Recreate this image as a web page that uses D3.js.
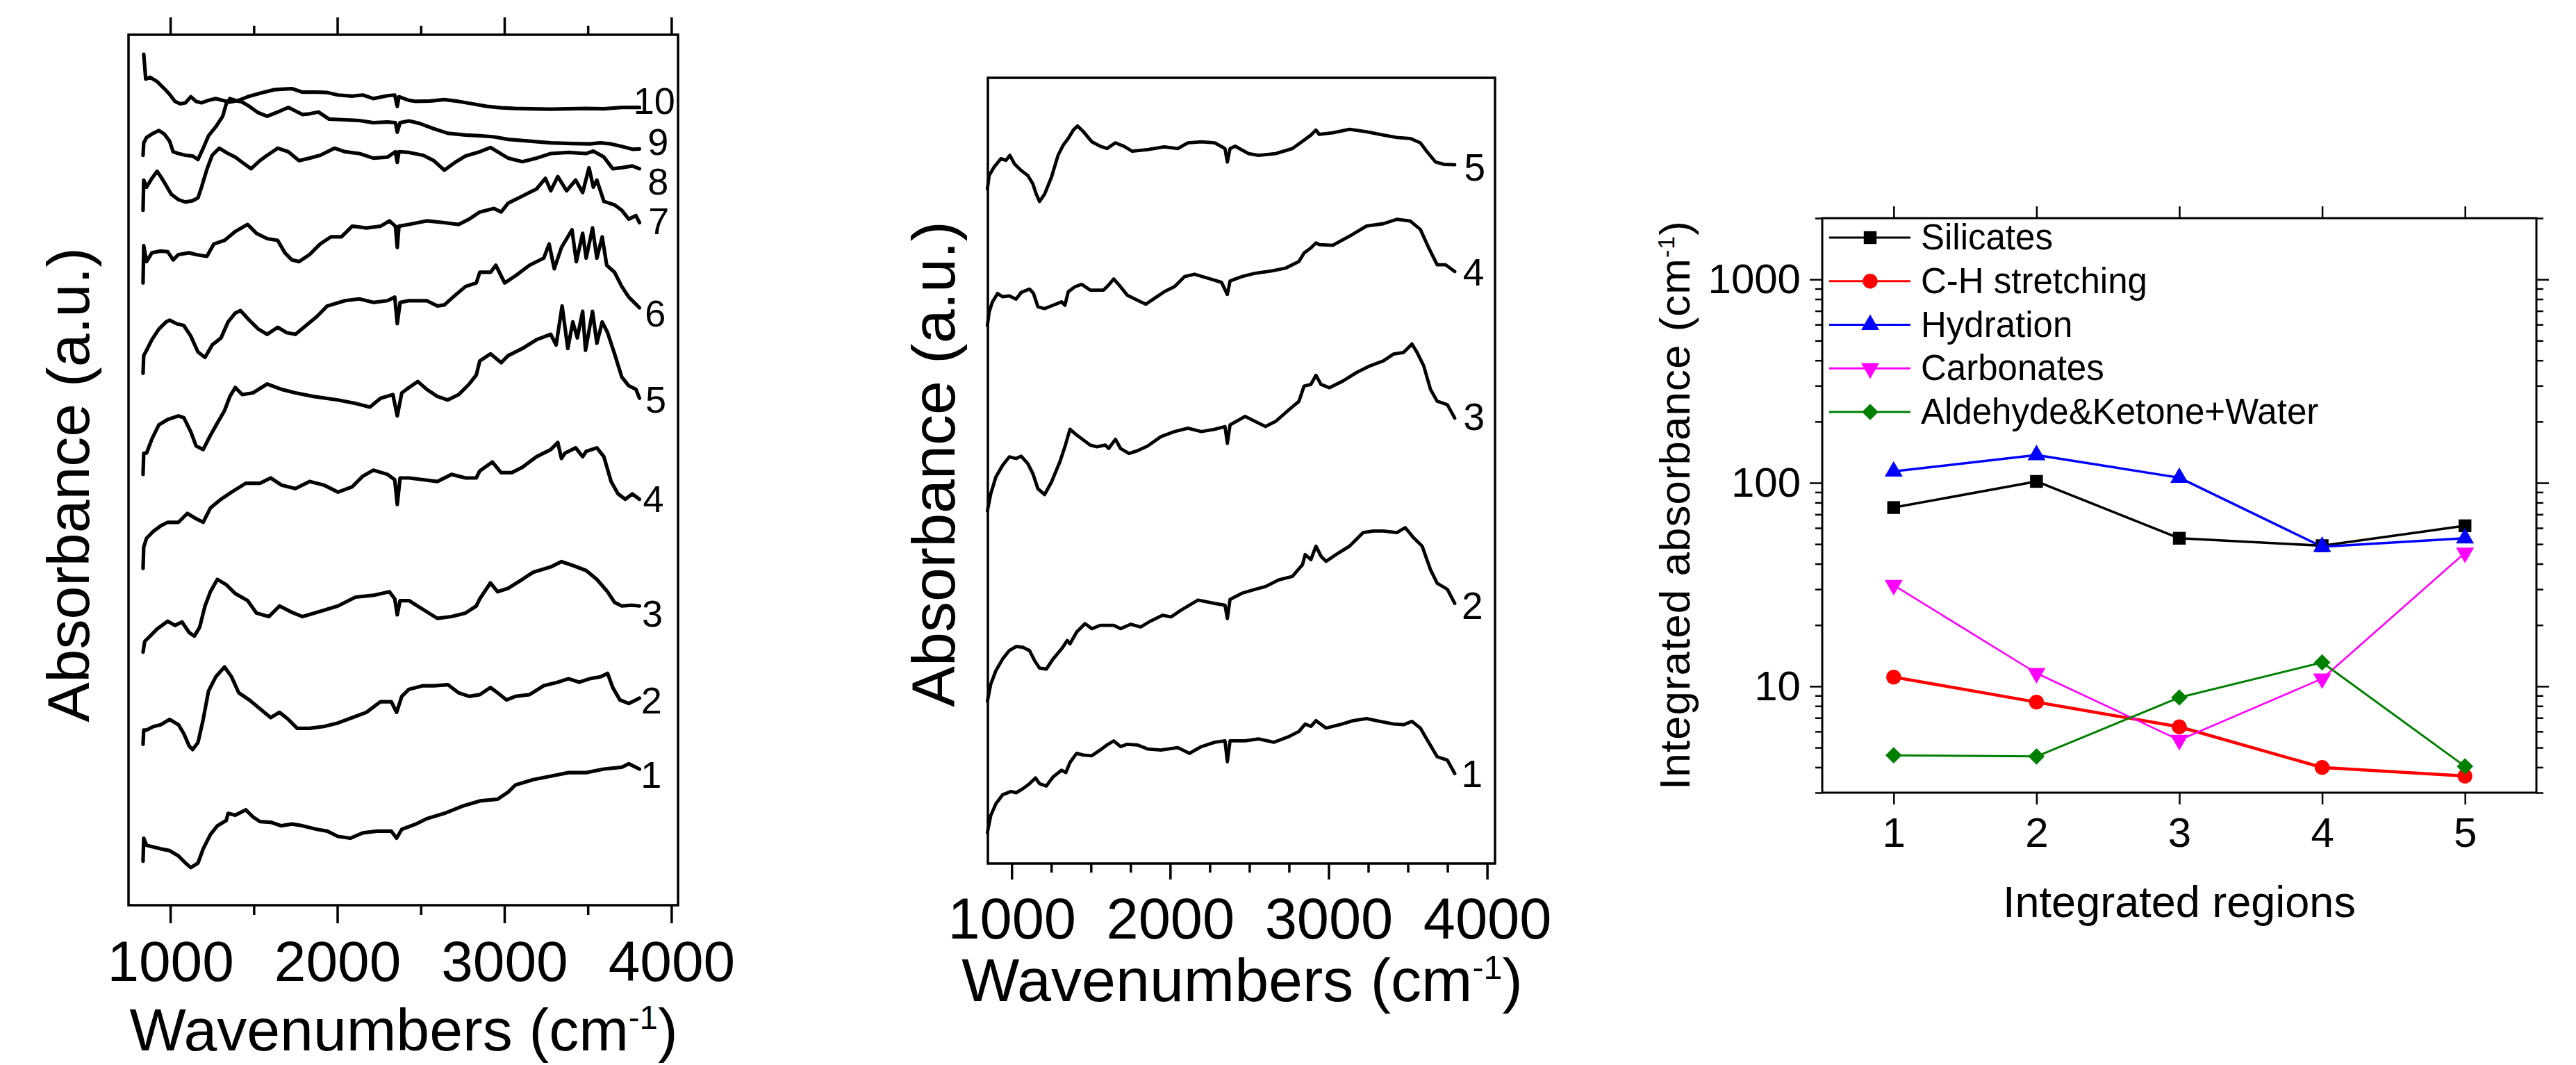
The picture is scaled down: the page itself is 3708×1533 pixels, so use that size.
<!DOCTYPE html>
<html lang="en">
<head>
<meta charset="UTF-8" />
<title>IR spectra and integrated absorbance</title>
<style>
  body { margin: 0; background: #fff; }
  svg { display: block; }
</style>
</head>
<body>
<svg width="3708" height="1533"></svg>
<script src="https://d3js.org/d3.v7.min.js"></script>
<script>
// ---- data: left panel spectra, [wavenumber cm-1, absorbance a.u. (stacked)]
const L1 = [[837,12.4],[841,18.9],[858,16.9],[900,16.4],[943,15.9],[996,15.4],[1049,13.9],[1091,11.9],[1123,10.6],[1166,11.9],[1197,15.9],[1240,19.9],[1282,22.4],[1335,23.9],[1346,25.9],[1389,25.4],[1452,26.9],[1495,24.9],[1537,23.6],[1601,23.4],[1665,22.4],[1728,22.9],[1792,22.4],[1877,21.4],[1940,20.9],[2004,19.4],[2078,18.9],[2153,20.4],[2238,20.9],[2323,20.9],[2355,18.9],[2386,21.4],[2471,22.9],[2535,24.4],[2641,25.9],[2747,27.9],[2853,29.4],[2960,29.9],[3023,31.9],[3066,33.9],[3172,35.4],[3278,36.4],[3384,37.4],[3490,37.4],[3596,38.4],[3703,38.9],[3745,39.9],[3809,38.4]];
const L2 = [[837,45.4],[841,49.4],[858,49.4],[900,50.4],[943,50.9],[996,52.4],[1049,50.9],[1081,48.4],[1113,44.9],[1134,43.9],[1166,45.9],[1197,52.4],[1229,60.4],[1272,64.4],[1325,67.2],[1367,64.4],[1410,59.9],[1473,57.9],[1537,55.4],[1601,52.9],[1654,54.4],[1707,52.4],[1760,49.9],[1834,49.9],[1919,50.4],[2004,51.4],[2089,52.9],[2174,54.4],[2259,57.4],[2323,57.4],[2355,54.4],[2386,58.9],[2429,60.9],[2514,61.9],[2577,61.9],[2662,62.2],[2726,59.9],[2790,58.9],[2853,59.4],[2917,61.4],[2960,59.9],[3013,57.9],[3066,58.9],[3151,59.4],[3236,61.9],[3320,62.9],[3384,63.9],[3448,62.9],[3512,63.9],[3575,64.4],[3618,65.4],[3649,61.4],[3692,57.9],[3745,56.9],[3788,57.9],[3809,58.4]];
const L3 = [[837,71.4],[847,74.4],[879,75.9],[921,77.9],[985,80.1],[1028,78.9],[1070,79.9],[1113,76.9],[1144,75.9],[1176,78.4],[1208,84.4],[1240,88.4],[1282,91.9],[1335,90.4],[1389,87.9],[1463,85.9],[1516,82.4],[1590,81.4],[1654,84.4],[1728,82.6],[1792,81.4],[1877,82.6],[2004,84.4],[2110,86.9],[2216,87.4],[2312,88.4],[2344,86.4],[2359,81.9],[2376,85.9],[2429,85.9],[2514,83.4],[2599,80.9],[2684,81.4],[2768,82.4],[2832,84.4],[2853,86.4],[2917,90.9],[2960,88.4],[3023,89.4],[3108,91.9],[3172,93.9],[3278,95.4],[3342,96.9],[3405,95.9],[3490,94.4],[3554,91.9],[3618,88.4],[3660,85.4],[3703,84.4],[3766,84.6],[3809,84.4]];
const L4 = [[837,95.0],[841,101.0],[858,103.5],[900,105.5],[943,107.0],[985,108.0],[1049,108.0],[1102,110.5],[1155,109.0],[1197,108.0],[1240,112.0],[1304,114.5],[1367,116.5],[1452,119.0],[1537,119.0],[1601,120.5],[1665,118.5],[1749,117.5],[1834,119.5],[1919,118.5],[2004,116.5],[2089,118.0],[2153,121.0],[2216,122.7],[2301,121.5],[2344,120.0],[2359,113.0],[2376,120.5],[2429,120.5],[2514,120.0],[2599,119.5],[2684,121.5],[2768,120.5],[2832,120.5],[2853,122.5],[2928,125.0],[2981,122.0],[3044,122.0],[3108,123.5],[3193,126.5],[3278,128.5],[3320,130.5],[3342,126.0],[3363,127.5],[3427,129.0],[3469,126.5],[3490,128.0],[3554,129.0],[3596,126.5],[3639,119.5],[3681,116.0],[3724,114.5],[3766,116.0],[3809,114.5]];
const L5 = [[837,121.5],[841,127.5],[858,127.5],[890,131.5],[932,135.5],[985,137.0],[1049,138.0],[1081,137.5],[1123,133.5],[1155,129.5],[1197,128.5],[1240,132.5],[1282,136.0],[1325,139.5],[1357,143.5],[1389,146.0],[1431,144.0],[1495,144.5],[1580,147.0],[1665,145.5],[1749,144.5],[1856,143.5],[2004,142.5],[2110,141.5],[2195,140.5],[2259,143.0],[2333,144.0],[2359,138.0],[2386,144.5],[2429,146.0],[2482,147.7],[2535,145.5],[2599,143.5],[2662,142.5],[2726,144.0],[2790,147.0],[2832,149.5],[2853,153.5],[2917,155.5],[2981,153.0],[3023,155.0],[3108,157.0],[3193,159.5],[3278,161.0],[3310,158.0],[3346,169.0],[3380,157.0],[3410,164.5],[3437,160.0],[3469,167.5],[3486,156.5],[3528,167.5],[3554,158.5],[3586,164.5],[3618,161.5],[3660,155.5],[3703,149.0],[3745,146.5],[3788,145.5],[3809,143.0]];
const L6 = [[837,150.0],[841,155.0],[858,156.5],[890,159.5],[932,162.5],[975,164.5],[996,165.0],[1038,164.0],[1081,163.5],[1123,160.5],[1166,156.0],[1208,154.5],[1251,158.0],[1304,160.0],[1346,164.5],[1389,167.0],[1420,167.7],[1473,165.0],[1527,162.5],[1580,161.0],[1643,163.0],[1696,161.5],[1749,161.0],[1813,163.5],[1877,166.0],[1940,169.0],[2047,170.5],[2132,171.0],[2216,170.0],[2301,170.5],[2344,171.5],[2359,164.0],[2376,170.0],[2429,170.5],[2535,170.5],[2599,169.0],[2641,169.3],[2705,172.0],[2768,174.5],[2832,175.5],[2853,178.5],[2917,178.5],[2949,180.5],[3002,175.5],[3066,177.5],[3151,180.5],[3236,182.5],[3268,186.5],[3299,179.5],[3342,185.5],[3405,190.5],[3431,181.5],[3469,189.5],[3490,182.5],[3528,191.0],[3554,182.5],[3586,188.5],[3613,180.5],[3660,178.5],[3703,174.5],[3745,171.5],[3788,169.5],[3809,168.5]];
const L7 = [[837,175.5],[841,186.0],[858,181.5],[890,184.0],[943,184.5],[985,184.3],[1017,182.0],[1049,183.5],[1113,184.0],[1155,183.5],[1219,183.0],[1261,186.5],[1325,187.5],[1389,190.0],[1463,192.0],[1516,189.5],[1580,188.0],[1643,187.5],[1686,184.0],[1728,182.0],[1771,181.5],[1834,183.5],[1898,186.5],[1962,188.5],[2025,188.5],[2089,191.5],[2174,191.0],[2259,191.5],[2312,193.0],[2348,191.5],[2359,185.5],[2369,191.5],[2429,192.0],[2535,193.0],[2641,192.5],[2726,192.0],[2790,193.5],[2853,195.5],[2938,196.5],[2981,195.5],[3023,198.0],[3108,200.0],[3193,202.0],[3246,205.0],[3278,201.5],[3320,205.5],[3373,201.5],[3427,204.5],[3469,201.0],[3507,208.0],[3533,202.5],[3554,204.5],[3596,198.5],[3660,197.5],[3703,196.0],[3745,193.5],[3788,194.5],[3809,192.5]];
const L8 = [[837,196.0],[841,204.5],[858,202.5],[890,205.0],[921,207.0],[943,205.5],[975,203.0],[1006,200.5],[1049,199.0],[1091,198.3],[1134,198.7],[1166,199.5],[1187,202.5],[1219,207.5],[1251,211.5],[1293,213.5],[1346,212.0],[1389,211.0],[1431,209.5],[1484,207.7],[1537,210.0],[1580,211.5],[1643,213.5],[1707,212.5],[1771,210.0],[1834,210.7],[1898,211.5],[1983,213.5],[2047,212.5],[2132,212.0],[2216,210.7],[2301,211.0],[2348,212.5],[2359,209.5],[2369,212.5],[2429,212.3],[2514,211.5],[2577,210.0],[2641,207.3],[2705,209.5],[2768,211.3],[2853,212.5],[2917,213.7],[2960,212.5],[3023,210.7],[3108,209.7],[3193,210.7],[3278,212.0],[3384,212.3],[3490,212.0],[3533,212.7],[3596,211.0],[3649,207.7],[3703,208.0],[3766,208.5],[3809,207.7]];
const L9 = [[837,211.5],[841,215.0],[858,216.5],[890,217.5],[932,218.5],[964,217.5],[996,215.5],[1017,212.5],[1049,212.0],[1091,211.5],[1134,211.3],[1166,210.3],[1197,213.5],[1229,217.0],[1272,219.5],[1314,222.5],[1335,226.0],[1357,227.5],[1389,227.0],[1431,226.5],[1473,225.3],[1527,223.5],[1580,222.5],[1633,223.5],[1707,225.0],[1749,224.0],[1792,223.0],[1834,223.2],[1887,223.7],[1951,221.7],[2047,221.5],[2132,221.3],[2216,220.7],[2301,220.9],[2348,220.7],[2359,218.0],[2376,220.7],[2429,221.2],[2492,220.5],[2577,219.0],[2662,217.7],[2768,217.2],[2853,217.0],[2938,216.7],[3023,216.0],[3151,215.5],[3278,215.0],[3405,214.8],[3512,214.7],[3575,215.0],[3639,214.7],[3703,214.0],[3766,213.2],[3809,213.3]];
const L10 = [[841,240.0],[853,233.0],[879,233.5],[921,232.3],[964,230.3],[996,228.7],[1028,226.7],[1059,226.0],[1091,226.3],[1123,228.0],[1155,226.7],[1187,226.3],[1229,227.0],[1272,227.5],[1314,227.0],[1357,226.5],[1410,227.0],[1463,228.0],[1537,229.0],[1622,230.0],[1686,230.2],[1728,230.3],[1792,229.3],[1877,229.3],[1940,229.2],[2004,228.5],[2089,228.2],[2153,228.5],[2216,227.5],[2301,228.3],[2344,228.5],[2359,225.3],[2369,228.0],[2428,227.0],[2471,226.7],[2556,226.8],[2641,227.2],[2726,226.7],[2811,226.0],[2896,225.3],[2981,224.9],[3066,224.7],[3278,224.5],[3490,224.7],[3596,224.6],[3703,225.0],[3809,225.0]];

const leftLabels = ["1", "2", "3", "4", "5", "6", "7", "8", "9", "10"];
const leftLabelWn = [3816, 3819, 3824, 3830, 3845, 3841, 3862, 3858, 3858, 3773];
const leftLabelAbs = [36.9, 57.9, 82.4, 114.7, 142.7, 167.0, 193.0, 204.2, 215.4, 226.9];

// ---- data: middle panel spectra
const M1 = [[847,9.2],[868,14.2],[900,17.7],[943,20.4],[996,21.4],[1028,21.0],[1070,22.2],[1113,23.7],[1151,25.4],[1176,23.7],[1219,23.0],[1261,25.7],[1315,27.7],[1342,27.0],[1368,30.0],[1410,32.7],[1453,32.2],[1506,32.0],[1559,33.7],[1602,35.2],[1644,36.4],[1687,34.7],[1729,35.4],[1793,35.2],[1857,34.0],[1942,33.7],[2048,34.4],[2122,32.7],[2197,34.7],[2282,36.0],[2346,36.4],[2361,30.2],[2378,36.4],[2473,36.4],[2558,37.0],[2654,36.0],[2750,37.7],[2813,39.2],[2852,41.4],[2888,40.7],[2920,42.4],[2984,40.2],[3069,41.2],[3154,42.4],[3239,43.0],[3324,42.2],[3409,41.4],[3473,41.2],[3526,42.2],[3579,40.2],[3622,36.7],[3685,31.7],[3749,30.7],[3796,26.7]];
const M2 = [[847,48.2],[868,53.2],[900,57.2],[943,60.7],[985,63.2],[1028,64.4],[1070,64.2],[1113,63.2],[1145,60.2],[1176,58.0],[1219,57.7],[1261,60.7],[1315,63.7],[1351,66.2],[1368,65.2],[1410,68.7],[1463,71.2],[1506,69.7],[1559,70.7],[1644,70.7],[1687,69.7],[1751,71.0],[1814,70.2],[1878,72.0],[1952,73.7],[2006,73.2],[2069,75.2],[2176,78.2],[2282,77.2],[2346,76.7],[2361,72.7],[2378,78.4],[2452,80.2],[2537,81.4],[2601,82.2],[2686,84.2],[2771,85.2],[2835,88.7],[2852,91.7],[2888,90.2],[2920,94.2],[2952,91.2],[2984,89.7],[3047,91.7],[3132,94.2],[3217,98.2],[3281,98.7],[3345,98.7],[3430,98.2],[3483,99.7],[3536,96.7],[3590,94.2],[3643,87.2],[3685,83.2],[3749,81.4],[3796,77.2]];
const M3 = [[847,104.7],[868,109.7],[900,114.7],[943,118.2],[985,120.7],[1028,120.2],[1060,120.9],[1102,118.7],[1134,115.7],[1166,111.2],[1208,109.5],[1251,113.2],[1304,119.2],[1336,123.7],[1368,128.9],[1410,127.2],[1453,125.7],[1495,124.2],[1538,123.7],[1591,124.2],[1612,123.2],[1655,125.9],[1687,123.2],[1740,121.7],[1793,122.5],[1857,123.9],[1942,126.7],[2027,128.2],[2112,129.2],[2197,128.2],[2282,128.9],[2346,129.7],[2361,124.7],[2378,130.2],[2473,132.7],[2537,131.2],[2601,129.7],[2665,131.2],[2750,134.7],[2813,137.2],[2845,141.7],[2888,142.2],[2920,144.9],[2952,142.2],[3005,141.2],[3090,143.2],[3175,145.7],[3260,147.7],[3345,149.2],[3409,151.2],[3473,151.7],[3526,154.2],[3558,151.7],[3600,147.7],[3643,140.7],[3685,137.2],[3749,136.2],[3796,132.2]];
const M4 = [[847,159.7],[858,163.7],[879,166.7],[911,169.2],[943,168.2],[985,168.5],[1028,167.5],[1060,169.5],[1113,170.5],[1138,169.2],[1166,165.2],[1208,164.7],[1261,165.7],[1315,166.7],[1336,165.7],[1357,169.7],[1400,171.2],[1442,171.9],[1495,170.2],[1580,170.2],[1612,171.7],[1644,173.5],[1687,171.2],[1729,168.7],[1793,167.2],[1846,166.0],[1899,167.7],[1963,169.7],[2027,171.2],[2091,174.2],[2154,174.9],[2239,173.7],[2324,172.5],[2361,168.9],[2378,172.9],[2452,174.2],[2537,175.2],[2643,175.9],[2728,176.7],[2813,178.7],[2845,181.2],[2888,182.7],[2920,184.2],[2941,183.7],[3026,183.5],[3132,186.2],[3239,189.2],[3345,189.9],[3430,191.2],[3515,190.7],[3579,188.2],[3632,182.7],[3685,177.7],[3738,177.7],[3796,175.7]];
const M5 = [[847,200.2],[858,204.2],[889,206.7],[932,209.2],[964,208.7],[989,210.2],[1017,207.7],[1060,205.7],[1102,204.2],[1134,201.7],[1155,198.7],[1176,196.5],[1208,198.7],[1251,203.7],[1293,210.2],[1325,213.2],[1357,215.2],[1389,217.7],[1415,218.9],[1453,217.2],[1506,214.2],[1559,212.9],[1602,212.2],[1655,213.9],[1708,212.9],[1761,211.4],[1857,211.9],[1963,212.7],[2048,212.2],[2112,213.9],[2197,214.2],[2282,213.9],[2346,212.2],[2361,208.2],[2378,212.2],[2410,212.9],[2495,210.7],[2558,210.2],[2665,210.7],[2771,212.2],[2845,214.7],[2888,216.2],[2920,217.7],[2941,216.4],[3026,216.9],[3132,217.9],[3239,217.2],[3345,216.2],[3430,215.5],[3515,215.2],[3579,213.9],[3622,211.2],[3675,208.2],[3729,207.5],[3796,207.4]];

const midLabels = ["1", "2", "3", "4", "5"];
const midLabelWn = [3837, 3840, 3851, 3847, 3855];
const midLabelAbs = [26.7, 76.7, 132.7, 175.7, 206.7];

// ---- data: right panel
const regions = [1, 2, 3, 4, 5];
const silicates = [75.6, 101.6, 53.4, 49.1, 61.5];
const chStretching = [11.1, 8.36, 6.32, 3.99, 3.62];
const hydration = [113.8, 137, 106, 48.5, 53.4];
const carbonates = [31.4, 11.6, 5.44, 10.9, 45.3];
const aldehydeKetoneWater = [4.58, 4.52, 8.81, 13.1, 4.04];
const seriesNames = ["Silicates", "C-H stretching", "Hydration", "Carbonates", "Aldehyde&Ketone+Water"];
const logTicks = [10, 100, 1000];

const FONT = '"Liberation Sans", Arial, Helvetica, sans-serif';
const svg = d3.select("svg");
svg.append("rect").attr("width", 3708).attr("height", 1533).attr("fill", "#fff");

// axis helper: draws ticks only, frame is drawn separately
function addAxis(gen, scale, values, size, transform, opts) {
  opts = opts || {};
  const ax = gen(scale).tickValues(values).tickSize(size).tickSizeOuter(0)
    .tickPadding(opts.pad || 0)
    .tickFormat(opts.fmt || (() => ""));
  const g = svg.append("g").attr("transform", transform).call(ax);
  g.attr("font-family", FONT).attr("font-size", opts.fs || 10);
  g.select(".domain").remove();
  g.selectAll("line").attr("stroke", "#000").attr("stroke-width", opts.sw || 3);
  g.selectAll("text").attr("fill", "#000");
  return g;
}

function frame(x0, y0, x1, y1, sw) {
  svg.append("rect").attr("x", x0).attr("y", y0)
    .attr("width", x1 - x0).attr("height", y1 - y0)
    .attr("fill", "none").attr("stroke", "#000").attr("stroke-width", sw);
}

// text with a superscript "-1"
function supTitle(t, main, fs) {
  t.append("tspan").text(main);
  t.append("tspan").attr("font-size", fs * 0.55).attr("dy", -fs * 0.36).text("-1");
  t.append("tspan").attr("dy", fs * 0.36).text(")");
}

// ================= left panel
const xL = d3.scaleLinear().domain([750, 4040]).range([185, 976]);
const yL = d3.scaleLinear().domain([0, 245.5]).range([1303, 50]);
const lineL = d3.line().x(d => xL(d[0])).y(d => yL(d[1]));

addAxis(d3.axisTop, xL, [1000, 2000, 3000, 4000], 25, "translate(0,50)", { sw: 3.5 });
addAxis(d3.axisTop, xL, [1500, 2500, 3500], 13, "translate(0,50)", { sw: 3.5 });
addAxis(d3.axisBottom, xL, [1000, 2000, 3000, 4000], 26, "translate(0,1303)",
  { sw: 3.5, fmt: d3.format("d"), pad: 25, fs: 82 });
addAxis(d3.axisBottom, xL, [1500, 2500, 3500], 14, "translate(0,1303)", { sw: 3.5 });

[L1, L2, L3, L4, L5, L6, L7, L8, L9, L10].forEach(s => {
  svg.append("path").attr("d", lineL(s)).attr("fill", "none")
    .attr("stroke", "#000").attr("stroke-width", 5.2)
    .attr("stroke-linejoin", "round").attr("stroke-linecap", "round");
});

leftLabels.forEach((t, i) => {
  svg.append("text").attr("x", xL(leftLabelWn[i])).attr("y", yL(leftLabelAbs[i]))
    .attr("dy", "0.36em").attr("font-family", FONT).attr("font-size", 54).text(t);
});

frame(185, 50, 976, 1303, 3.5);

svg.append("text").attr("x", 581).attr("y", 1512).attr("text-anchor", "middle")
  .attr("font-family", FONT).attr("font-size", 86)
  .call(t => supTitle(t, "Wavenumbers (cm", 86));
svg.append("text").attr("transform", "translate(128,698) rotate(-90)")
  .attr("text-anchor", "middle").attr("font-family", FONT).attr("font-size", 86)
  .text("Absorbance (a.u.)");

// ================= middle panel
const xM = d3.scaleLinear().domain([850, 4050]).range([1422, 2152]);
const yM = d3.scaleLinear().domain([0, 233.2]).range([1243, 112]);
const lineM = d3.line().x(d => xM(d[0])).y(d => yM(d[1]));

addAxis(d3.axisBottom, xM, [1000, 2000, 3000, 4000], 23, "translate(0,1243)",
  { sw: 3.5, fmt: d3.format("d"), pad: 26, fs: 83 });
addAxis(d3.axisBottom, xM, d3.range(1250, 4000, 250).filter(v => v % 1000 !== 0), 13,
  "translate(0,1243)", { sw: 3.5 });

[M1, M2, M3, M4, M5].forEach(s => {
  svg.append("path").attr("d", lineM(s)).attr("fill", "none")
    .attr("stroke", "#000").attr("stroke-width", 4.8)
    .attr("stroke-linejoin", "round").attr("stroke-linecap", "round");
});

midLabels.forEach((t, i) => {
  svg.append("text").attr("x", xM(midLabelWn[i])).attr("y", yM(midLabelAbs[i]))
    .attr("dy", "0.36em").attr("font-family", FONT).attr("font-size", 55).text(t);
});

frame(1422, 112, 2152, 1243, 3.5);

svg.append("text").attr("x", 1788).attr("y", 1441).attr("text-anchor", "middle")
  .attr("font-family", FONT).attr("font-size", 88)
  .call(t => supTitle(t, "Wavenumbers (cm", 88));
svg.append("text").attr("transform", "translate(1374,668) rotate(-90)")
  .attr("text-anchor", "middle").attr("font-family", FONT).attr("font-size", 88)
  .text("Absorbance (a.u.)");

// ================= right panel
const xR = d3.scaleLinear().domain([0.5, 5.5]).range([2623, 3651]);
const yR = d3.scaleLog().domain([3, 2000]).range([1141, 314]);
const minorLog = [3, 4, 5, 6, 7, 8, 9, 20, 30, 40, 50, 60, 70, 80, 90,
  200, 300, 400, 500, 600, 700, 800, 900, 2000];

addAxis(d3.axisBottom, xR, regions, 17, "translate(0,1141)",
  { sw: 2.5, fmt: d3.format("d"), pad: 18, fs: 60 });
addAxis(d3.axisTop, xR, regions, 17, "translate(0,314)", { sw: 2.5 });
addAxis(d3.axisLeft, yR, logTicks, 18, "translate(2623,0)",
  { sw: 2.5, fmt: d3.format("d"), pad: 13, fs: 60 });
addAxis(d3.axisLeft, yR, minorLog, 10, "translate(2623,0)", { sw: 2.5 });
addAxis(d3.axisRight, yR, logTicks, 18, "translate(3651,0)", { sw: 2.5 });
addAxis(d3.axisRight, yR, minorLog, 10, "translate(3651,0)", { sw: 2.5 });

const series = [
  { name: seriesNames[0], values: silicates, color: "#000000", sw: 3.5,
    sym: d3.symbolSquare, size: 340, rot: 0 },
  { name: seriesNames[1], values: chStretching, color: "#ff0000", sw: 4.5,
    sym: d3.symbolCircle, size: 360, rot: 0 },
  { name: seriesNames[2], values: hydration, color: "#0000ff", sw: 3.5,
    sym: d3.symbolTriangle, size: 290, rot: 0 },
  { name: seriesNames[3], values: carbonates, color: "#ff00ff", sw: 2.6,
    sym: d3.symbolTriangle, size: 290, rot: 180 },
  { name: seriesNames[4], values: aldehydeKetoneWater, color: "#008000", sw: 3,
    sym: d3.symbolSquare, size: 280, rot: 45 }
];

const lineR = d3.line().x((d, i) => xR(regions[i])).y(d => yR(d));
series.forEach(s => {
  svg.append("path").attr("d", lineR(s.values)).attr("fill", "none")
    .attr("stroke", s.color).attr("stroke-width", s.sw).attr("stroke-linejoin", "round");
});
series.forEach(s => {
  const sym = d3.symbol().type(s.sym).size(s.size);
  svg.append("g").selectAll("path").data(s.values).join("path")
    .attr("d", sym)
    .attr("transform", (d, i) => `translate(${xR(regions[i])},${yR(d)}) rotate(${s.rot})`)
    .attr("fill", s.color);
});

// legend
series.forEach((s, i) => {
  const y = 342 + i * 62.75;
  svg.append("line").attr("x1", 2633).attr("x2", 2750).attr("y1", y).attr("y2", y)
    .attr("stroke", s.color).attr("stroke-width", 3);
  svg.append("path").attr("d", d3.symbol().type(s.sym).size(s.size))
    .attr("transform", `translate(2692,${y}) rotate(${s.rot})`).attr("fill", s.color);
  svg.append("text").attr("x", 2765).attr("y", y + 17)
    .attr("font-family", FONT).attr("font-size", 51).text(s.name);
});

frame(2623, 314, 3651, 1141, 3);

svg.append("text").attr("x", 3137).attr("y", 1320).attr("text-anchor", "middle")
  .attr("font-family", FONT).attr("font-size", 63).text("Integrated regions");
svg.append("text").attr("transform", "translate(2432,727) rotate(-90)")
  .attr("text-anchor", "middle").attr("font-family", FONT).attr("font-size", 62)
  .attr("letter-spacing", 1)
  .call(t => supTitle(t, "Integrated absorbance (cm", 62));
</script>
</body>
</html>
